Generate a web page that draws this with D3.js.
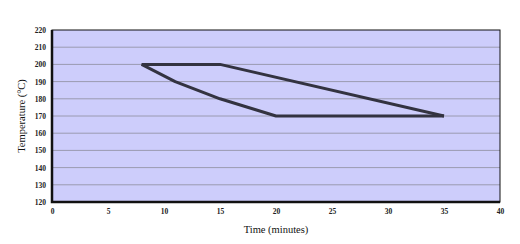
<!DOCTYPE html>
<html>
<head>
<meta charset="utf-8">
<script src="https://cdn.jsdelivr.net/npm/d3@7"></script>
<style>
  body { margin: 0; background: #fff; }
  text { font-family: "Liberation Serif", "DejaVu Serif", serif; }
</style>
</head>
<body>
<div id="chart"></div>
<script>
// Temperature profile window (upper and lower bounds)
var upperTime = [8, 15, 35];
var upperTemp = [200, 200, 170];
var lowerTime = [8, 11, 15, 20, 35];
var lowerTemp = [200, 190, 180, 170, 170];

var xTicks = [0, 5, 10, 15, 20, 25, 30, 35, 40];
var yTicks = [120, 130, 140, 150, 160, 170, 180, 190, 200, 210, 220];

var width = 520;
var height = 244;
var margin = {top: 30, right: 20, bottom: 42, left: 52};

var x = d3.scaleLinear().domain([0, 40]).range([margin.left, width - margin.right]);
var y = d3.scaleLinear().domain([120, 220]).range([height - margin.bottom, margin.top]);

var svg = d3.select("#chart").append("svg")
    .attr("width", width)
    .attr("height", height);

// plot background
svg.append("rect")
    .attr("x", x(0))
    .attr("y", y(220))
    .attr("width", x(40) - x(0))
    .attr("height", y(120) - y(220))
    .attr("fill", "#cdcdfb");

// horizontal grid
svg.append("g").selectAll("line")
    .data(yTicks.slice(1, -1))
    .enter().append("line")
    .attr("x1", x(0))
    .attr("x2", x(40))
    .attr("y1", function(d) { return y(d); })
    .attr("y2", function(d) { return y(d); })
    .attr("stroke", "#9a9ab0")
    .attr("stroke-width", 1);

// axes
var xAxis = svg.append("g")
    .attr("transform", "translate(0," + y(120) + ")")
    .call(d3.axisBottom(x).tickValues(xTicks).tickSize(0).tickPadding(7));
var yAxis = svg.append("g")
    .attr("transform", "translate(" + x(0) + ",0)")
    .call(d3.axisLeft(y).tickValues(yTicks).tickSize(0).tickPadding(6));

[xAxis, yAxis].forEach(function(a) {
  a.select(".domain").remove();
  a.selectAll("text")
      .attr("font-family", "Liberation Serif, serif")
      .attr("font-size", 7.5)
      .attr("font-weight", "bold")
      .attr("fill", "#222");
});

// frame
svg.append("rect")
    .attr("x", x(0))
    .attr("y", y(220))
    .attr("width", x(40) - x(0))
    .attr("height", y(120) - y(220))
    .attr("fill", "none")
    .attr("stroke", "#111")
    .attr("stroke-width", 1);
svg.append("path")
    .attr("d", "M" + x(0) + "," + y(220) + "V" + y(120) + "H" + x(40))
    .attr("fill", "none")
    .attr("stroke", "#111")
    .attr("stroke-width", 2.5);

var line = d3.line()
    .x(function(d) { return x(d[0]); })
    .y(function(d) { return y(d[1]); });

var series = [d3.zip(upperTime, upperTemp), d3.zip(lowerTime, lowerTemp)];

svg.append("g").selectAll("path")
    .data(series)
    .enter().append("path")
    .attr("d", line)
    .attr("fill", "none")
    .attr("stroke", "#333340")
    .attr("stroke-width", 3)
    .attr("stroke-linejoin", "round");

// axis titles
svg.append("text")
    .attr("x", (x(0) + x(40)) / 2)
    .attr("y", 233)
    .attr("text-anchor", "middle")
    .attr("font-size", 10.5)
    .attr("fill", "#111")
    .text("Time (minutes)");

svg.append("text")
    .attr("transform", "translate(25," + (y(120) + y(220)) / 2 + ") rotate(-90)")
    .attr("text-anchor", "middle")
    .attr("font-size", 10.5)
    .attr("fill", "#111")
    .text("Temperature (°C)");
</script>
</body>
</html>
